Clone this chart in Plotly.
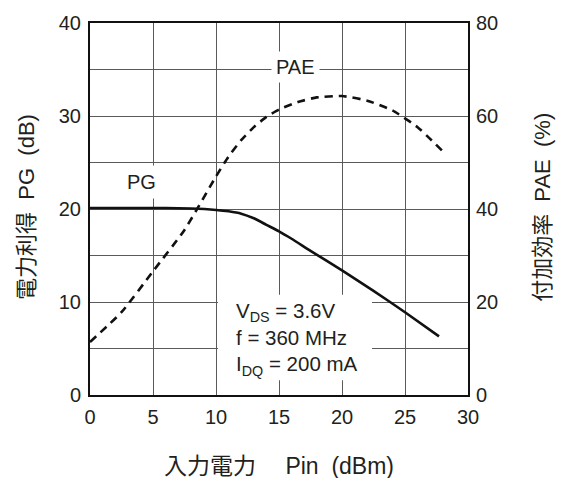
import plotly.graph_objects as go

# ---- data ----
pin_pg = [0, 3, 6, 8, 10, 11, 12, 13, 14, 15, 16, 17.5, 20, 22.5, 25, 27.7]
pg_db = [20.1, 20.1, 20.1, 20.05, 19.9, 19.75, 19.5, 19.0, 18.3, 17.6, 16.8, 15.5, 13.4, 11.2, 8.9, 6.3]

pin_pae = [0, 2.5, 5, 7.5, 10, 11, 12, 13, 14, 15, 16.5, 18, 20, 22, 24, 26, 28]
pae_pct = [11.4, 17.8, 26.6, 35.5, 47.0, 51.3, 54.8, 57.6, 59.8, 61.4, 63.0, 64.0, 64.3, 63.3, 61.2, 57.6, 52.4]

x_ticks = [0, 5, 10, 15, 20, 25, 30]
pg_ticks = [0, 10, 20, 30, 40]
pae_ticks = [0, 20, 40, 60, 80]

FONT = "Liberation Sans, Arial, Noto Sans CJK JP, sans-serif"
TXT = "#231f20"
GRID = "#5a5a5a"

fig = go.Figure()
fig.add_trace(go.Scatter(
    x=pin_pg, y=pg_db, mode="lines", name="PG",
    line=dict(color="#111", width=2.6, shape="spline", smoothing=0.5),
    yaxis="y", showlegend=False))
fig.add_trace(go.Scatter(
    x=pin_pae, y=pae_pct, mode="lines", name="PAE",
    line=dict(color="#111", width=2.6, dash="8px,6px", shape="spline", smoothing=0.5),
    yaxis="y2", showlegend=False))

fig.update_layout(
    width=563, height=478,
    margin=dict(l=90, r=95, t=17, b=83),
    paper_bgcolor="white", plot_bgcolor="white",
    font=dict(family=FONT, color=TXT, size=20),
    xaxis=dict(range=[0, 30], tickvals=x_ticks, showgrid=True, gridcolor=GRID, gridwidth=1,
               zeroline=False, showline=True, linecolor="#111", linewidth=2, mirror=True,
               ticks="outside", ticklen=3, tickcolor="rgba(0,0,0,0)",
               tickfont=dict(size=20, family=FONT, color=TXT)),
    yaxis=dict(range=[0, 40], tickvals=pg_ticks, showgrid=True, gridcolor=GRID, gridwidth=1,
               minor=dict(dtick=5, showgrid=True, gridcolor=GRID, gridwidth=1),
               zeroline=False, showline=True, linecolor="#111", linewidth=2, mirror=True,
               ticks="outside", ticklen=3, tickcolor="rgba(0,0,0,0)",
               tickfont=dict(size=20, family=FONT, color=TXT)),
    yaxis2=dict(range=[0, 80], tickvals=pae_ticks, overlaying="y", side="right",
                showgrid=False, zeroline=False, showline=False,
                ticks="outside", ticklen=3, tickcolor="rgba(0,0,0,0)",
                tickfont=dict(size=20, family=FONT, color=TXT)),
)

# white panel behind the conditions text (above grid, below traces)
fig.add_shape(type="rect", xref="x", yref="y", x0=10.16, x1=22.38, y0=1.59, y1=10.79,
              fillcolor="white", line=dict(width=0), layer="between")

ann = []
# axis titles
ann.append(dict(text="入力電力　 Pin  (dBm)", xref="paper", yref="paper", x=0.5, y=-0.19,
                xanchor="center", yanchor="middle", showarrow=False,
                font=dict(size=23, family=FONT, color=TXT)))
ann.append(dict(text="電力利得  PG  (dB)", xref="paper", yref="paper", x=-0.17, y=0.505,
                xanchor="center", yanchor="middle", textangle=-90, showarrow=False,
                font=dict(size=22, family=FONT, color=TXT)))
ann.append(dict(text="付加効率  PAE  (%)", xref="paper", yref="paper", x=1.195, y=0.505,
                xanchor="center", yanchor="middle", textangle=-90, showarrow=False,
                font=dict(size=22, family=FONT, color=TXT)))
# curve labels
ann.append(dict(text="PAE", x=16.3, y=35.3, xref="x", yref="y", showarrow=False,
                bgcolor="white", borderpad=4, font=dict(size=20, family=FONT, color=TXT)))
ann.append(dict(text="PG", x=4.1, y=22.9, xref="x", yref="y", showarrow=False,
                bgcolor="white", borderpad=5, font=dict(size=20, family=FONT, color=TXT)))
# conditions text
ann.append(dict(text="V<sub>DS</sub> = 3.6V<br>f = 360 MHz<br>I<sub>DQ</sub> = 200 mA",
                x=11.45, y=6.0, xref="x", yref="y", xanchor="left", yanchor="middle",
                showarrow=False, align="left",
                font=dict(size=20.5, family=FONT, color=TXT)))
fig.update_layout(annotations=ann)

fig.write_html("out.html")
